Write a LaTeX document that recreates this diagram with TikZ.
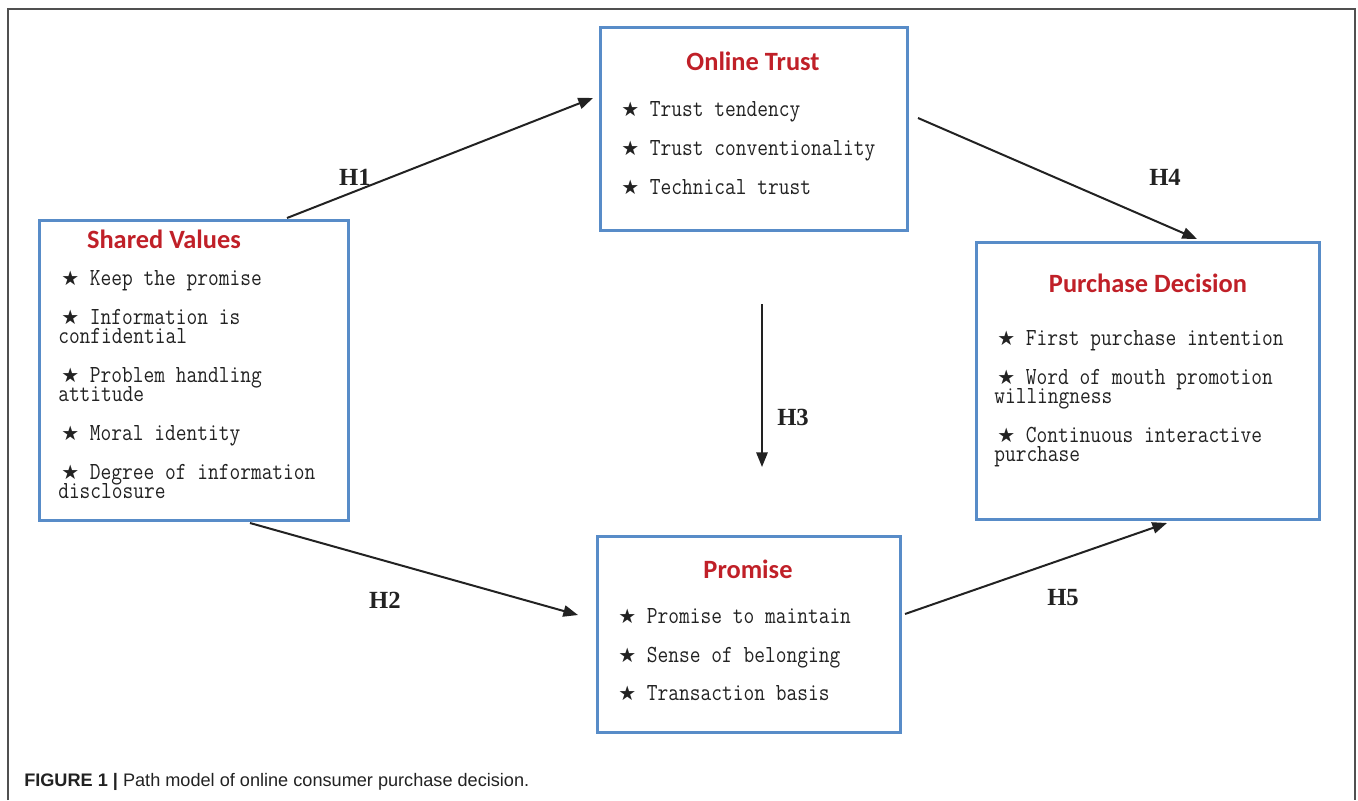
\documentclass[tikz,border=0pt]{standalone}
\usepackage{fontspec}
\setmainfont{Liberation Serif}
\newfontfamily\monof[FakeStretch=0.85]{Latin Modern Mono}
\newfontfamily\titlef{Carlito}
\newfontfamily\starf{DejaVu Sans}
\newfontfamily\capf{Liberation Sans}
\usetikzlibrary{arrows.meta}
\definecolor{boxblue}{RGB}{88,140,200}
\definecolor{titlered}{RGB}{192,32,40}
\definecolor{txt}{RGB}{34,34,34}
\definecolor{framegray}{RGB}{80,80,80}
\newcommand{\st}{{\starf\fontsize{15}{15}\selectfont ★}}
\newcommand{\fst}{\hspace*{2.25pt}\st}
\newcommand{\itemfont}{\monof\fontsize{18.4}{14.25}\selectfont\setlength{\lineskiplimit}{-100pt}\setlength{\lineskip}{0pt}}
\tikzset{
  box/.style={draw=boxblue, line width=2.25pt, rectangle, inner sep=0pt},
  ttl/.style={text=titlered, font=\titlef\bfseries\fontsize{19.8}{22}\selectfont, inner sep=0pt, anchor=center},
  itm/.style={text=txt, font=\itemfont, inner sep=0pt, anchor=base west, align=left},
  hyp/.style={text=txt, font=\rmfamily\bfseries\fontsize{18.5}{20}\selectfont, inner sep=0pt, anchor=center},
  conn/.style={draw=txt, line width=1.5pt, -{Triangle[length=11pt,width=8.5pt]}},
}
\begin{document}
\begin{tikzpicture}[x=0.75pt,y=-0.75pt]
\useasboundingbox (0,0) rectangle (1358,800);
% outer frame
\draw[framegray, line width=1.3pt] (8,800) -- (8,9) -- (1355,9) -- (1355,800);

% boxes
\node[box, minimum width=231.75pt, minimum height=225pt] (sv) at (193.5,370) {};
\node[box, minimum width=230.25pt, minimum height=152.25pt] (ot) at (753.5,128.5) {};
\node[box, minimum width=257.25pt, minimum height=207.75pt] (pd) at (1147.5,380.5) {};
\node[box, minimum width=227.25pt, minimum height=147pt] (pr) at (748.5,634) {};

% Shared Values (multi-line nodes: base = last line)
\node[ttl] (svt) at (164,239) {Shared Values};
\node[itm] (sv1) at (58,285) {\fst\ Keep the promise};
\node[itm] (sv2) at (58,343) {\fst\ Information is\\confidential};
\node[itm] (sv3) at (58,401) {\fst\ Problem handling\\attitude};
\node[itm] (sv4) at (58,440) {\fst\ Moral identity};
\node[itm] (sv5) at (58,498) {\fst\ Degree of information\\disclosure};

% Online Trust
\node[ttl] (ott) at (753,61) {Online Trust};
\node[itm] (ot1) at (621,116) {\st\ Trust tendency};
\node[itm] (ot2) at (621,155) {\st\ Trust conventionality};
\node[itm] (ot3) at (621,194) {\st\ Technical trust};

% Purchase Decision
\node[ttl] (pdt) at (1148,283) {Purchase Decision};
\node[itm] (pd1) at (994,345) {\fst\ First purchase intention};
\node[itm] (pd2) at (994,403) {\fst\ Word of mouth promotion\\willingness};
\node[itm] (pd3) at (994,461) {\fst\ Continuous interactive\\purchase};

% Promise
\node[ttl] (prt) at (748,569) {Promise};
\node[itm] (pr1) at (618,623) {\st\ Promise to maintain};
\node[itm] (pr2) at (618,662) {\st\ Sense of belonging};
\node[itm] (pr3) at (618,700) {\st\ Transaction basis};

% connector end points
\coordinate (h1s) at (287,218);
\coordinate (h1e) at (593,98);
\coordinate (h2s) at (250,523);
\coordinate (h2e) at (578,615);
\coordinate (h3s) at (762,304);
\coordinate (h3e) at (762,467);
\coordinate (h4s) at (918,118);
\coordinate (h4e) at (1197,239);
\coordinate (h5s) at (905,614);
\coordinate (h5e) at (1167,523);

\draw[conn] (h1s) -- (h1e);
\draw[conn] (h2s) -- (h2e);
\draw[conn] (h3s) -- (h3e);
\draw[conn] (h4s) -- (h4e);
\draw[conn] (h5s) -- (h5e);

\node[hyp] (H1) at (355,177) {H1};
\node[hyp] (H2) at (385,600) {H2};
\node[hyp] (H3) at (793,417) {H3};
\node[hyp] (H4) at (1165,177) {H4};
\node[hyp] (H5) at (1063,598) {H5};

% caption
\node[anchor=base west, inner sep=0pt, text=txt, font=\capf\fontsize{13.6}{16}\selectfont] (cap) at (24,786) {\textbf{FIGURE 1 |} Path model of online consumer purchase decision.};
\end{tikzpicture}
\end{document}
